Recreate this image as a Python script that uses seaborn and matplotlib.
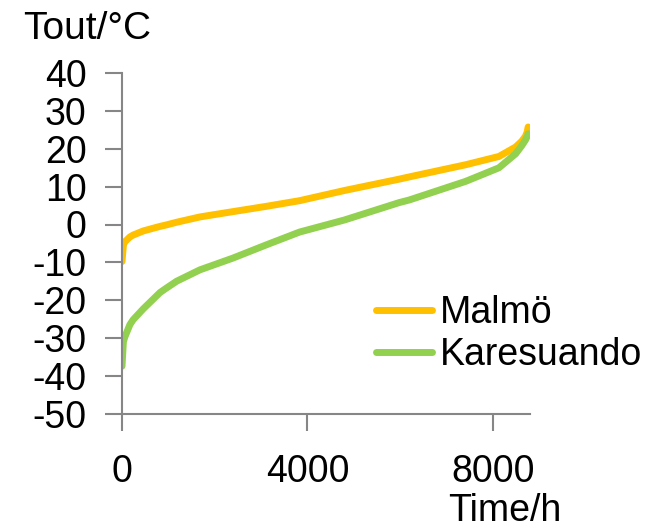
import matplotlib
matplotlib.use("Agg")
import matplotlib.pyplot as plt
import seaborn as sns
import pandas as pd

# Duration curves of outdoor temperature (sorted hourly values over a year)
hours = [0, 30, 60, 170, 240, 460, 820, 960, 1180, 1680, 2390, 3110,
         3830, 4800, 5980, 6200, 7410, 8130, 8490, 8620, 8700, 8740, 8760]
malmo = [-9.8, -5.5, -4.6, -3.3, -2.8, -1.7, -0.5, -0.1, 0.6, 2.0, 3.4, 4.8,
         6.3, 9.0, 12.0, 12.6, 15.8, 18.0, 20.5, 22.0, 23.3, 24.5, 25.8]
karesuando = [-37.5, -31.0, -29.8, -26.5, -25.2, -22.3, -18.0, -16.8, -15.0, -12.0, -8.9, -5.4,
              -2.0, 1.2, 5.8, 6.5, 11.4, 15.0, 18.7, 20.8, 22.3, 23.3, 24.0]
cities = ["Malmö", "Karesuando"]
colors = ["#FFC000", "#92D050"]
x_ticks = [0, 4000, 8000]
y_ticks = list(range(-50, 41, 10))

df = pd.concat([
    pd.DataFrame({"hour": hours, "temp": malmo, "city": cities[0]}),
    pd.DataFrame({"hour": hours, "temp": karesuando, "city": cities[1]}),
])

sns.set_theme(style="white")
plt.rcParams["font.family"] = ["Liberation Sans", "DejaVu Sans"]
plt.rcParams["font.size"] = 27
plt.rcParams["axes.unicode_minus"] = False
plt.rcParams["text.color"] = "black"
plt.rcParams["xtick.color"] = "black"
plt.rcParams["ytick.color"] = "black"

AXIS_COLOR = "#868686"

fig = plt.figure(figsize=(6.69, 5.29), dpi=100)
ax = fig.add_axes([122 / 669, 1 - 413.5 / 529, 408 / 669, (413.5 - 73.3) / 529])

sns.lineplot(data=df, x="hour", y="temp", hue="city", palette=colors,
             hue_order=cities, linewidth=5, ax=ax, legend=True,
             solid_capstyle="round")

ax.set_xlim(0, 8800)
ax.set_ylim(-50, 40)
ax.set_xticks(x_ticks)
ax.set_yticks(y_ticks)
ax.set_xlabel("")
ax.set_ylabel("")

for side in ["top", "right"]:
    ax.spines[side].set_visible(False)
for side in ["left", "bottom"]:
    ax.spines[side].set_color(AXIS_COLOR)
    ax.spines[side].set_linewidth(1.5)

ax.tick_params(axis="both", which="major", direction="out", length=12, width=1.5,
               color=AXIS_COLOR, labelsize=27, labelcolor="black",
               bottom=True, left=True)
ax.tick_params(axis="x", pad=17.5)
ax.tick_params(axis="y", pad=13.5)

leg = ax.legend(loc="upper left", bbox_to_anchor=(376 / 669, 1 - 295 / 529),
                bbox_transform=fig.transFigure, frameon=False, fontsize=27,
                borderpad=0, borderaxespad=0, handlelength=1.5,
                handletextpad=0.2, labelspacing=0.17)
for line in leg.get_lines():
    line.set_linewidth(5)
    line.set_solid_capstyle("round")

fig.text(23 / 669, 1 - 39 / 529, "Tout/°C", fontsize=28, va="baseline", ha="left")
fig.text(448 / 669, 1 - 521 / 529, "Time/h", fontsize=27, va="baseline", ha="left")

fig.savefig("out.png", dpi=100)
